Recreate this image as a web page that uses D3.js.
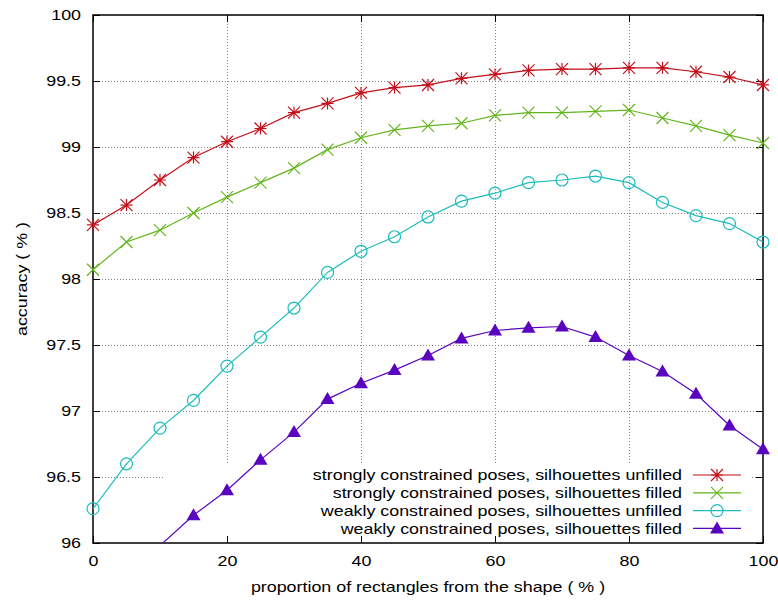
<!DOCTYPE html>
<html lang="en">
<head>
<meta charset="UTF-8">
<title>accuracy vs proportion</title>
<script src="https://d3js.org/d3.v7.min.js"></script>
<style>
  body { margin: 0; background: #fff; }
  svg text { font-family: "Liberation Sans", Arial, sans-serif; fill: #000; }
</style>
</head>
<body>
<div id="chart"></div>
<script>
    // proportion of rectangles (x) and accuracy series
    const proportions = [0, 5, 10, 15, 20, 25, 30, 35, 40, 45, 50, 55, 60, 65, 70, 75, 80, 85, 90, 95, 100];
    const strongUnfilled = [98.41, 98.56, 98.75, 98.92, 99.04, 99.14, 99.26, 99.33, 99.41, 99.45, 99.47, 99.52, 99.55, 99.58, 99.59, 99.59, 99.60, 99.60, 99.57, 99.53, 99.47];
    const strongFilled = [98.07, 98.28, 98.37, 98.50, 98.62, 98.73, 98.84, 98.98, 99.07, 99.13, 99.16, 99.18, 99.24, 99.26, 99.26, 99.27, 99.28, 99.22, 99.16, 99.09, 99.03];
    const weakUnfilled = [96.26, 96.60, 96.87, 97.08, 97.34, 97.56, 97.78, 98.05, 98.21, 98.32, 98.47, 98.59, 98.65, 98.73, 98.75, 98.78, 98.73, 98.58, 98.48, 98.42, 98.28];
    const weakFilled = [null, null, 95.98, 96.21, 96.40, 96.63, 96.84, 97.09, 97.21, 97.31, 97.42, 97.55, 97.61, 97.63, 97.64, 97.56, 97.42, 97.30, 97.13, 96.89, 96.71];

    const xTicks = [0, 20, 40, 60, 80, 100];
    const yTicks = [96, 96.5, 97, 97.5, 98, 98.5, 99, 99.5, 100];

    const series = [
        { name: "strongly constrained poses, silhouettes unfilled", values: strongUnfilled, color: "#c4101a", marker: "star" },
        { name: "strongly constrained poses, silhouettes filled", values: strongFilled, color: "#62b51c", marker: "cross" },
        { name: "weakly constrained poses, silhouettes unfilled", values: weakUnfilled, color: "#1cbcbc", marker: "circle" },
        { name: "weakly constrained poses, silhouettes filled", values: weakFilled, color: "#5a04c0", marker: "triangle" }
    ];

    const width = 778, height = 603;
    const margin = { top: 15, right: 15, bottom: 60, left: 93 };

    const svg = d3.select("#chart").append("svg")
        .attr("width", width)
        .attr("height", height);

    const x = d3.scaleLinear().domain([0, 100]).range([margin.left, width - margin.right]);
    const y = d3.scaleLinear().domain([96, 100]).range([height - margin.bottom, margin.top]);

    const x0 = x.range()[0], x1 = x.range()[1], y0 = y.range()[0], y1 = y.range()[1];

    // legend area hides the grid (gnuplot opaque key)
    const keyBox = { left: 163, right: 752, top: 465 };
    const inKey = (px, py) => px > keyBox.left && px < keyBox.right && py > keyBox.top;

    // grid
    const grid = svg.append("g").attr("class", "grid")
        .style("stroke", "#888").style("stroke-width", 1).style("stroke-dasharray", "1,2");
    xTicks.slice(1, -1).forEach(t => {
        const px = Math.round(x(t)) + 0.5;
        const yEnd = inKey(px, y0 - 1) ? keyBox.top : y0;
        grid.append("line").attr("x1", px).attr("x2", px).attr("y1", y1).attr("y2", yEnd);
    });
    yTicks.slice(1, -1).forEach(t => {
        const py = Math.round(y(t)) + 0.5;
        if (py > keyBox.top) {
            grid.append("line").attr("x1", x0).attr("x2", keyBox.left).attr("y1", py).attr("y2", py);
            grid.append("line").attr("x1", keyBox.right).attr("x2", x1).attr("y1", py).attr("y2", py);
        } else {
            grid.append("line").attr("x1", x0).attr("x2", x1).attr("y1", py).attr("y2", py);
        }
    });

    // axes with inward ticks, mirrored
    const tickLen = 7;
    svg.append("g").attr("transform", `translate(0,${y0})`)
        .call(d3.axisBottom(x).tickValues(xTicks).tickSizeInner(-tickLen).tickSizeOuter(0).tickPadding(12))
        .call(g => g.select(".domain").remove());
    svg.append("g").attr("transform", `translate(0,${y1})`)
        .call(d3.axisTop(x).tickValues(xTicks).tickSizeInner(-tickLen).tickSizeOuter(0).tickFormat(""))
        .call(g => g.select(".domain").remove());
    svg.append("g").attr("transform", `translate(${x0},0)`)
        .call(d3.axisLeft(y).tickValues(yTicks).tickSizeInner(-tickLen).tickSizeOuter(0).tickPadding(12).tickFormat(d3.format("")))
        .call(g => g.select(".domain").remove());
    svg.append("g").attr("transform", `translate(${x1},0)`)
        .call(d3.axisRight(y).tickValues(yTicks).tickSizeInner(-tickLen).tickSizeOuter(0).tickFormat(""))
        .call(g => g.select(".domain").remove());

    svg.selectAll(".tick text").style("font-size", "15px").style("font-family", "Liberation Sans, Arial, sans-serif");
    svg.selectAll(".tick line").style("stroke", "#000");

    svg.append("rect")
        .attr("x", x0).attr("y", y1)
        .attr("width", x1 - x0).attr("height", y0 - y1)
        .style("fill", "none").style("stroke", "#000").style("stroke-width", 1.5);

    svg.append("defs").append("clipPath").attr("id", "plot-clip")
        .append("rect").attr("x", x0).attr("y", y1).attr("width", x1 - x0).attr("height", y0 - y1);

    function drawMarker(g, type, px, py, color) {
        const s = 6;
        if (type === "star") {
            g.append("path")
                .attr("d", `M${px - s},${py}H${px + s}M${px},${py - s}V${py + s}M${px - s},${py - s}L${px + s},${py + s}M${px - s},${py + s}L${px + s},${py - s}`)
                .style("stroke", color).style("stroke-width", 1.2).style("fill", "none");
        } else if (type === "cross") {
            g.append("path")
                .attr("d", `M${px - s},${py - s}L${px + s},${py + s}M${px - s},${py + s}L${px + s},${py - s}`)
                .style("stroke", color).style("stroke-width", 1.2).style("fill", "none");
        } else if (type === "circle") {
            g.append("circle").attr("cx", px).attr("cy", py).attr("r", 6)
                .style("stroke", color).style("stroke-width", 1.2).style("fill", "none");
        } else {
            g.append("path")
                .attr("d", `M${px},${py - 7}L${px + 7},${py + 5}L${px - 7},${py + 5}Z`)
                .style("fill", color).style("stroke", "none");
        }
    }

    const line = d3.line()
        .defined(d => d[1] !== null)
        .x(d => x(d[0]))
        .y(d => y(d[1]));

    series.forEach(s => {
        const pts = proportions.map((p, i) => [p, s.values[i]]);
        svg.append("path")
            .datum(pts)
            .attr("clip-path", "url(#plot-clip)")
            .attr("d", line)
            .style("fill", "none")
            .style("stroke", s.color)
            .style("stroke-width", 1.2);
        const mg = svg.append("g");
        pts.filter(d => d[1] !== null && d[1] >= 96).forEach(d => drawMarker(mg, s.marker, x(d[0]), y(d[1]), s.color));
    });

    // legend
    const legend = svg.append("g");
    series.forEach((s, i) => {
        const ly = 475 + i * 17.8;
        legend.append("text")
            .attr("x", 682).attr("y", ly).attr("dy", "0.35em")
            .attr("text-anchor", "end")
            .style("font-size", "15px")
            .text(s.name);
        legend.append("line")
            .attr("x1", 693).attr("x2", 741).attr("y1", ly).attr("y2", ly)
            .style("stroke", s.color).style("stroke-width", 1.2);
        drawMarker(legend, s.marker, 717, ly, s.color);
    });

    // axis titles
    svg.append("text")
        .attr("x", (x0 + x1) / 2).attr("y", 592)
        .attr("text-anchor", "middle")
        .style("font-size", "15px")
        .text("proportion of rectangles from the shape ( % )");
    svg.append("text")
        .attr("transform", `translate(22,${(y0 + y1) / 2}) rotate(-90)`)
        .attr("dy", "0.35em")
        .attr("text-anchor", "middle")
        .style("font-size", "15px")
        .text("accuracy ( % )");

    // the reference font is set wider than Liberation Sans: stretch glyphs horizontally
    svg.selectAll("text").each(function() {
        const w = this.getComputedTextLength();
        if (w > 0) {
            d3.select(this).attr("textLength", w * 1.19).attr("lengthAdjust", "spacingAndGlyphs");
        }
    });
</script>
</body>
</html>
